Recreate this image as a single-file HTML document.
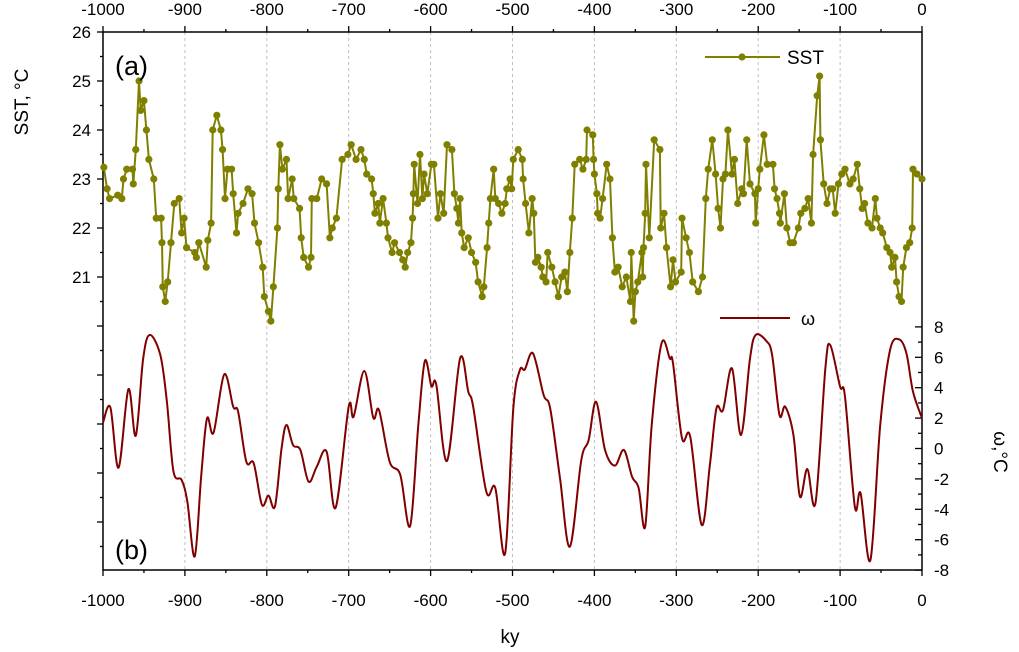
<!DOCTYPE html>
<html><head><meta charset="utf-8"><style>
html,body{margin:0;padding:0;background:#fff}
svg{display:block;font-family:"Liberation Sans",sans-serif}
</style></head><body>
<svg id="chart" width="1019" height="652" viewBox="0 0 1019 652" xmlns="http://www.w3.org/2000/svg">
<g id="grid"></g>
<g id="axes"></g>
<g id="series"></g>
<text x="115" y="75" font-size="27">(a)</text>
<text x="115" y="559" font-size="27">(b)</text>
<text x="510" y="643" font-size="19" text-anchor="middle">ky</text>
<text transform="translate(28,102) rotate(-90)" font-size="19" text-anchor="middle">SST, °C</text>
<text transform="translate(994,452) rotate(90)" font-size="19" text-anchor="middle">ω,°C</text>
<g>
<line x1="705" y1="57" x2="780" y2="57" stroke="#808000" stroke-width="2"/>
<circle cx="742" cy="57" r="3.6" fill="#808000"/>
<text x="787" y="64" font-size="19">SST</text>
</g>
<g>
<line x1="720" y1="318" x2="790" y2="318" stroke="#800000" stroke-width="2"/>
<text x="801" y="325" font-size="18">ω</text>
</g>
</svg>
<script>
const sstAge=[-999,-995,-992,-982,-977,-975,-971,-964,-963,-960,-956,-954,-950,-947,-944,-938,-935,-929,-928,-927,-924,-921,-917,-913,-907,-904,-901,-898,-888,-886,-883,-874,-872,-868,-866,-861,-856,-854,-851,-848,-843,-841,-837,-835,-829,-823,-818,-815,-810,-805,-803,-798,-795,-792,-787,-786,-784,-781,-776,-774,-769,-767,-760,-758,-755,-749,-746,-745,-739,-733,-727,-723,-720,-715,-708,-701,-697,-691,-685,-681,-678,-672,-670,-668,-664,-662,-658,-654,-652,-647,-644,-638,-634,-631,-628,-624,-622,-621,-620,-616,-613,-610,-608,-604,-599,-596,-591,-588,-584,-580,-574,-571,-568,-566,-564,-562,-559,-554,-550,-545,-542,-537,-535,-531,-529,-527,-523,-521,-517,-513,-509,-507,-503,-501,-499,-493,-488,-487,-484,-480,-476,-474,-472,-469,-465,-463,-459,-457,-452,-448,-444,-440,-436,-433,-430,-427,-424,-418,-414,-410,-409,-402,-401,-400,-397,-396,-393,-390,-385,-381,-378,-375,-371,-366,-361,-356,-355,-352,-350,-347,-342,-341,-340,-338,-337,-333,-327,-320,-319,-315,-312,-307,-304,-301,-294,-293,-288,-284,-280,-273,-268,-264,-261,-256,-252,-249,-246,-243,-240,-237,-232,-229,-225,-220,-218,-214,-210,-204,-203,-200,-198,-193,-189,-182,-180,-177,-174,-173,-168,-165,-161,-157,-151,-148,-143,-139,-135,-133,-128,-125,-124,-120,-116,-112,-109,-106,-102,-98,-94,-88,-84,-79,-76,-73,-70,-66,-61,-57,-55,-51,-48,-43,-39,-37,-33,-31,-28,-25,-23,-19,-15,-12,-11,-6,0];
const sstVal=[23.24,22.8,22.6,22.67,22.6,23.0,23.2,23.2,22.9,23.6,25.0,24.4,24.6,24.0,23.4,23.0,22.2,22.2,21.7,20.8,20.5,20.9,21.7,22.5,22.6,21.9,22.2,21.6,21.5,21.4,21.7,21.2,21.75,22.1,24.0,24.3,24.0,23.6,22.6,23.2,23.2,22.7,21.9,22.3,22.5,22.8,22.7,22.1,21.7,21.2,20.6,20.3,20.1,20.8,22.0,22.8,23.7,23.2,23.4,22.6,23.0,22.6,22.4,21.8,21.4,21.2,21.4,22.6,22.6,23.0,22.9,21.8,22.0,22.2,23.4,23.5,23.7,23.4,23.6,23.4,23.1,23.0,22.7,22.3,22.5,22.1,22.6,22.1,21.8,21.5,21.7,21.5,21.35,21.2,21.5,21.7,22.2,22.7,23.3,22.5,23.5,22.6,23.1,22.7,23.3,23.3,22.2,22.7,22.3,23.7,23.6,22.7,22.4,22.1,22.6,21.9,21.6,21.8,21.5,21.3,20.9,20.6,20.8,21.6,22.1,22.6,23.2,22.6,22.5,22.3,22.5,22.8,23.0,22.8,23.4,23.6,23.4,23.0,22.5,21.9,22.6,22.3,21.3,21.4,21.2,21.0,20.9,21.5,21.2,20.9,20.6,21.0,21.1,20.7,21.5,22.2,23.3,23.4,23.2,23.4,24.0,23.9,23.4,23.1,22.7,22.3,22.2,22.6,23.3,23.0,21.8,21.1,21.2,20.8,21.0,20.5,21.5,20.1,20.7,20.9,21.5,21.0,21.6,22.3,23.3,21.8,23.8,23.6,22.0,22.3,21.6,20.8,21.35,20.9,21.1,22.2,21.8,21.5,20.9,20.7,21.0,22.6,23.2,23.8,23.1,22.4,22.0,23.0,23.1,24.0,23.1,23.4,22.5,22.8,22.7,23.8,22.9,22.7,22.1,22.8,23.2,23.9,23.3,23.3,22.8,22.6,22.3,22.1,22.7,22.0,21.7,21.7,22.0,22.3,22.4,22.6,22.1,23.5,24.7,25.1,23.8,22.9,22.5,22.8,22.8,22.3,22.9,23.1,23.2,22.9,23.0,23.3,22.8,22.4,22.5,22.1,22.0,22.6,22.2,22.0,21.9,21.6,21.5,21.2,21.4,20.9,20.6,20.5,21.2,21.6,21.7,22.0,23.2,23.1,23.0];
const omegaAge=[-1000,-991,-981,-969,-960,-951,-943,-930,-922,-914,-904,-897,-888,-880,-873,-865,-852,-841,-835,-825,-816,-806,-798,-790,-782,-776,-768,-759,-749,-739,-727,-716,-700,-694,-681,-670,-663,-650,-637,-625,-615,-607,-599,-593,-580,-564,-554,-548,-532,-521,-509,-499,-491,-485,-475,-462,-454,-442,-430,-416,-407,-398,-387,-375,-364,-354,-346,-338,-330,-318,-308,-304,-293,-283,-269,-259,-251,-243,-232,-221,-210,-203,-190,-183,-174,-167,-157,-149,-140,-130,-118,-112,-100,-94,-82,-75,-63,-51,-39,-28,-19,-11,0];
const omegaVal=[1.7,2.7,-1.26,3.9,0.84,5.9,7.47,6.15,3.08,-1.5,-2.07,-3.5,-7.1,-1.74,1.98,1.04,4.88,2.75,2.42,-0.87,-0.97,-3.7,-3.1,-3.8,0.0,1.55,0.23,-0.1,-2.18,-1.2,-0.2,-3.9,2.75,2.1,5.1,2.03,2.53,-0.87,-1.74,-5.1,1.55,5.76,4.1,4.18,-0.82,5.93,3.74,2.75,-2.84,-2.6,-6.9,2.64,5.16,5.2,6.26,3.52,2.64,-1.96,-6.46,-0.76,0.56,3.08,-0.1,-1.13,-0.1,-1.86,-2.6,-5.14,1.55,6.92,5.93,5.6,0.67,0.78,-5.03,-1.08,2.64,2.53,5.27,0.89,5.93,7.47,7.07,6.15,2.2,2.75,0.89,-3.17,-1.35,-3.57,5.27,6.8,4.07,3.4,-3.83,-2.95,-7.34,1.55,6.48,7.18,6.26,3.74,1.99];
const xTicks=[-1000,-900,-800,-700,-600,-500,-400,-300,-200,-100,0];
const sstTicks=[21,22,23,24,25,26];
const omegaTicks=[-8,-6,-4,-2,0,2,4,6,8];

const NS='http://www.w3.org/2000/svg';
const L=103,R=922,T=32,B=570;
const xs=v=>L+(v+1000)/1000*(R-L);
const ys=v=>T+(26-v)*49;
const yo=v=>448.5-v*15.2;
function mk(tag,attrs,parent){const e=document.createElementNS(NS,tag);for(const k in attrs)e.setAttribute(k,attrs[k]);parent.appendChild(e);return e;}
const grid=document.getElementById('grid'),axes=document.getElementById('axes'),series=document.getElementById('series');

xTicks.forEach(t=>{
  if(t>-1000&&t<0){const g=mk('line',{x1:xs(t),x2:xs(t),y1:T,y2:B,stroke:'#c0c0c0','stroke-dasharray':'3,3','stroke-width':1},grid);
  
  }
});
const frame=mk('rect',{x:L,y:T,width:R-L,height:B-T,fill:'none',stroke:'#000','stroke-width':1.5},axes);


for(let v=-1000;v<=0;v+=50){
  const major=v%100===0,len=major?6:3;
  mk('line',{x1:xs(v),x2:xs(v),y1:B,y2:B+len,stroke:'#000','stroke-width':1.3},axes);
  mk('line',{x1:xs(v),x2:xs(v),y1:T,y2:T-len,stroke:'#000','stroke-width':1.3},axes);
}
xTicks.forEach(t=>{
  const b=mk('text',{x:xs(t),y:B+36,'font-size':17,'text-anchor':'middle'},axes);b.textContent=t;
  
  
  const tp=mk('text',{x:xs(t),y:T-17,'font-size':17,'text-anchor':'middle'},axes);tp.textContent=t;
  
  
});
for(let v=26;v>=15;v-=0.5){const y=ys(v);if(y>B+0.5)break;const major=Number.isInteger(v);
  mk('line',{x1:L-(major?6:3),x2:L,y1:y,y2:y,stroke:'#000','stroke-width':1.3},axes);}
sstTicks.forEach(t=>{const e=mk('text',{x:L-12,y:ys(t)+6,'font-size':17,'text-anchor':'end'},axes);e.textContent=t;
  
  });
for(let v=-8;v<=8;v++){const y=yo(v);mk('line',{x1:R-(v%2===0?7:4),x2:R,y1:y,y2:y,stroke:'#000','stroke-width':1.3},axes);}
omegaTicks.forEach(t=>{const e=mk('text',{x:R+12,y:yo(t)+6,'font-size':17,'text-anchor':'start'},axes);e.textContent=t;
  
  });

const sp=sstAge.map((a,i)=>xs(a).toFixed(1)+','+ys(sstVal[i]).toFixed(1)).join(' ');
const sl=mk('polyline',{points:sp,fill:'none',stroke:'#808000','stroke-width':2},series);


sstAge.forEach((a,i)=>{const c=mk('circle',{cx:xs(a),cy:ys(sstVal[i]),r:3.6,fill:'#808000'},series);
  
  });
const pts=omegaAge.map((a,i)=>[xs(a),yo(omegaVal[i])]);
let d='M'+pts[0][0]+','+pts[0][1];
for(let i=0;i<pts.length-1;i++){const p0=pts[Math.max(0,i-1)],p1=pts[i],p2=pts[i+1],p3=pts[Math.min(pts.length-1,i+2)];
  const c1=[p1[0]+(p2[0]-p0[0])/6,p1[1]+(p2[1]-p0[1])/6],c2=[p2[0]-(p3[0]-p1[0])/6,p2[1]-(p3[1]-p1[1])/6];
  d+=' C'+c1.join(',')+' '+c2.join(',')+' '+p2.join(',');}
const ol=mk('path',{d:d,fill:'none',stroke:'#800000','stroke-width':2},series);


</script>
</body></html>
